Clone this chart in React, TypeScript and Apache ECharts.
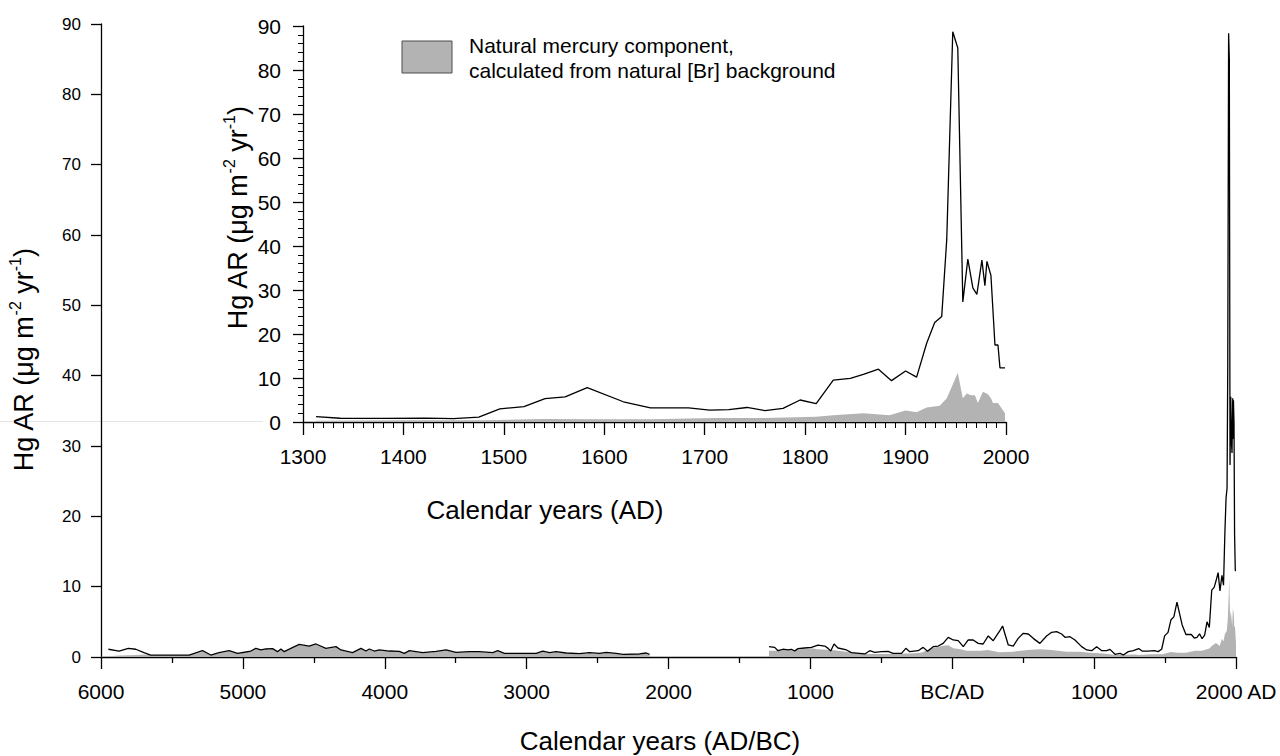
import React, { useEffect, useRef } from "react";
import * as echarts from "echarts";

const FONT = "'Liberation Sans', Arial, Helvetica, sans-serif";

// ---- Main chart, early segment (BC years negative) ----
const earlyYears = [-5948, -5873, -5807, -5755, -5697, -5650, -5473, -5379, -5285, -5226, -5168, -5097, -5038, -4979, -4944, -4909, -4873, -4838, -4791, -4756, -4732, -4709, -4662, -4603, -4533, -4485, -4415, -4344, -4309, -4227, -4168, -4133, -4109, -4074, -4039, -3968, -3898, -3862, -3827, -3733, -3639, -3568, -3498, -3404, -3333, -3239, -3204, -3157, -3122, -2933, -2887, -2839, -2792, -2722, -2628, -2557, -2487, -2439, -2369, -2322, -2205, -2157, -2134];
const earlyHg = [1.1, 0.85, 1.23, 1.1, 0.62, 0.28, 0.28, 0.28, 0.9, 0.28, 0.62, 0.9, 0.52, 0.71, 0.85, 1.23, 1.0, 1.14, 1.19, 0.76, 1.14, 0.76, 1.23, 1.8, 1.56, 1.85, 1.23, 1.47, 1.0, 0.62, 1.23, 0.85, 1.14, 0.85, 1.0, 0.85, 0.81, 0.52, 0.9, 0.62, 0.81, 1.0, 0.66, 0.76, 0.76, 0.62, 0.9, 0.52, 0.52, 0.52, 0.85, 0.62, 0.76, 0.57, 0.47, 0.62, 0.52, 0.66, 0.52, 0.38, 0.43, 0.57, 0.38];
const earlyNatYears = [-6000, -5873, -5755, -5697, -5650, -5473, -5379, -5285, -5226, -5168, -5097, -5038, -4979, -4944, -4909, -4873, -4838, -4791, -4756, -4732, -4709, -4662, -4603, -4533, -4485, -4415, -4344, -4309, -4227, -4168, -4133, -4109, -4074, -4039, -3968, -3898, -3862, -3827, -3733, -3639, -3568, -3498, -3404, -3333, -3239, -3204, -3157, -3122, -2933, -2887, -2839, -2792, -2722, -2628, -2557, -2487, -2439, -2369, -2322, -2205, -2157, -2134];
const earlyNat = [0.05, 0.2, 0.3, 0.35, 0.25, 0.25, 0.25, 0.75, 0.25, 0.55, 0.8, 0.45, 0.65, 0.8, 1.15, 0.95, 1.05, 1.1, 0.7, 1.05, 0.7, 1.15, 1.7, 1.5, 1.75, 1.15, 1.4, 0.95, 0.55, 1.15, 0.8, 1.05, 0.8, 0.95, 0.8, 0.75, 0.45, 0.85, 0.55, 0.75, 0.95, 0.6, 0.7, 0.7, 0.55, 0.8, 0.45, 0.45, 0.45, 0.75, 0.55, 0.7, 0.5, 0.4, 0.55, 0.45, 0.6, 0.45, 0.3, 0.35, 0.5, 0.3];

// ---- Main chart, middle segment (-1300 .. 1300) ----
const midYears = [-1292, -1252, -1229, -1194, -1158, -1135, -1111, -1088, -1041, -993, -947, -899, -876, -857, -834, -806, -746, -711, -617, -582, -547, -499, -453, -418, -358, -328, -300, -241, -206, -175, -135, -100, -65, -29, 6, 41, 77, 112, 147, 182, 217, 253, 288, 335, 354, 394, 429, 464, 500, 535, 570, 617, 664, 700, 735, 770, 794, 829, 864, 911, 947, 982, 1017, 1053, 1088, 1111, 1146, 1182, 1205, 1240, 1276];
const midHg = [1.47, 1.37, 0.9, 1.1, 1.0, 1.1, 0.85, 1.19, 1.28, 1.37, 1.7, 1.56, 1.23, 0.85, 1.85, 1.28, 1.0, 0.62, 0.43, 0.9, 0.66, 0.76, 0.81, 0.52, 0.52, 1.23, 0.76, 0.9, 1.37, 0.81, 1.47, 1.56, 1.94, 2.8, 2.42, 2.32, 1.47, 2.42, 2.42, 1.94, 1.85, 2.99, 2.32, 3.74, 4.41, 1.71, 1.56, 2.65, 3.37, 3.27, 2.65, 1.94, 2.99, 3.51, 3.6, 3.27, 2.8, 2.89, 2.42, 1.47, 1.0, 0.9, 1.47, 0.9, 0.9, 1.09, 0.38, 0.52, 0.28, 0.76, 0.9];
const midNatYears = [-1292, -1194, -993, -947, -850, -746, -617, -450, -300, -220, -135, -65, -29, 6, 60, 100, 200, 250, 330, 429, 530, 617, 700, 805, 900, 970, 1060, 1158, 1290];
const midNat = [0.9, 0.9, 1.23, 1.1, 1.0, 0.76, 0.43, 0.43, 0.5, 0.62, 1.3, 1.6, 1.66, 1.23, 1.1, 0.9, 0.9, 1.0, 0.66, 0.76, 1.0, 1.1, 1.0, 0.76, 0.75, 0.62, 0.5, 0.28, 0.35];

// ---- Recent record (1300 .. 2000 AD), shared by main chart and inset ----
const recentYears = [1313, 1337, 1380, 1423, 1450, 1475, 1496, 1520, 1541, 1561, 1583, 1619, 1646, 1684, 1705, 1724, 1742, 1760, 1778, 1795, 1811, 1828, 1845, 1858, 1873, 1886, 1900, 1911, 1921, 1929, 1936, 1941, 1947, 1952, 1957, 1962, 1967, 1971, 1976, 1979, 1981, 1985, 1989, 1992, 1994, 1999];
const recentHg = [1.2, 0.85, 0.83, 0.9, 0.76, 1.1, 3.0, 3.5, 5.3, 5.7, 7.8, 4.6, 3.2, 3.2, 2.7, 2.8, 3.3, 2.6, 3.1, 5.0, 4.2, 9.5, 9.9, 10.8, 12.0, 9.4, 11.6, 10.2, 17.9, 22.6, 24.0, 41.5, 88.7, 85.0, 27.3, 37.0, 30.5, 29.0, 36.8, 31.0, 36.5, 33.3, 17.5, 17.5, 12.3, 12.3];
const recentNatYears = [1313, 1400, 1480, 1540, 1590, 1646, 1711, 1760, 1811, 1828, 1858, 1884, 1900, 1911, 1921, 1934, 1941, 1947, 1952, 1957, 1961, 1965, 1969, 1972, 1977, 1982, 1985, 1987, 1992, 1999];
const recentNat = [0.3, 0.4, 0.4, 0.7, 0.6, 0.6, 0.9, 0.9, 1.2, 1.55, 2.0, 1.55, 2.6, 2.2, 3.3, 3.7, 5.4, 8.5, 11.2, 5.4, 6.5, 6.1, 6.1, 4.3, 6.9, 6.3, 5.4, 4.3, 4.3, 2.0];

// ---- Tick labels ----
const mainXTickValues = [-6000, -5000, -4000, -3000, -2000, -1000, 0, 1000, 2000];
const mainXTickLabels = ["6000", "5000", "4000", "3000", "2000", "1000", "BC/AD", "1000", "2000 AD"];

const mainXTitle = "Calendar years (AD/BC)";
const insetXTitle = "Calendar years (AD)";
const legendLines = ["Natural mercury component,", "calculated from natural [Br] background"];
const yTitleRich = "{a|Hg AR (μg m}{s|-2}{a| yr}{s|-1}{a|)}";

const GREY = "#b3b3b3";

function pairs(xs: number[], ys: number[]) {
  return xs.map((x, i) => [x, ys[i]]);
}

function axisCommon(fontSize: number, margin: number, tickLen: number) {
  return {
    type: "value",
    splitLine: { show: false },
    axisLine: { show: true, onZero: false, lineStyle: { color: "#000", width: 1.3 } },
    axisTick: { show: true, length: tickLen, lineStyle: { color: "#000", width: 1.3 } },
    axisLabel: { color: "#000", fontSize, margin, fontFamily: FONT, formatter: (v: number) => String(v) },
  };
}

const richTitle = {
  a: { fontSize: 27, fontFamily: FONT, fill: "#000", color: "#000", lineHeight: 33 },
  s: { fontSize: 16, fontFamily: FONT, fill: "#000", color: "#000", verticalAlign: "top", lineHeight: 19 },
};

export default function App() {
  const ref = useRef<HTMLDivElement>(null);

  useEffect(() => {
    if (!ref.current) return;
    const chart = echarts.init(ref.current, undefined, { renderer: "svg" });

    const areaSeries = (name: string, data: number[][], xi: number, yi: number) => ({
      name,
      type: "line",
      xAxisIndex: xi,
      yAxisIndex: yi,
      data,
      symbol: "none",
      silent: true,
      itemStyle: { color: GREY },
      lineStyle: { width: 0, color: GREY },
      areaStyle: { color: GREY, opacity: 1 },
      z: 2,
    });
    const lineSeries = (name: string, data: number[][], xi: number, yi: number) => ({
      name,
      type: "line",
      xAxisIndex: xi,
      yAxisIndex: yi,
      data,
      symbol: "none",
      silent: true,
      itemStyle: { color: "#000" },
      lineStyle: { width: 1.3, color: "#000" },
      z: 3,
    });

    const yTitle = (x: number, y: number) => ({
      type: "text",
      x,
      y,
      rotation: Math.PI / 2,
      silent: true,
      style: {
        text: yTitleRich,
        rich: richTitle,
        fill: "#000",
        font: `27px ${FONT}`,
        textAlign: "center",
        textVerticalAlign: "middle",
      },
    });

    const option: any = {
      animation: false,
      backgroundColor: "#ffffff",
      textStyle: { fontFamily: FONT },
      grid: [
        { left: 101, right: 43, top: 24, bottom: 99 },
        { left: 303, right: 274, top: 26, bottom: 334 },
      ],
      xAxis: [
        {
          ...axisCommon(21, 24, 12),
          gridIndex: 0,
          min: -6000,
          max: 2000,
          interval: 1000,
          minorTick: { show: true, splitNumber: 2, length: 6, lineStyle: { color: "#000", width: 1.3 } },
          minorSplitLine: { show: false },
          axisLabel: {
            color: "#000",
            fontSize: 21,
            margin: 24,
            fontFamily: FONT,
            formatter: (v: number) => {
              const i = mainXTickValues.indexOf(v);
              return i >= 0 ? mainXTickLabels[i] : "";
            },
          },
        },
        {
          ...axisCommon(21, 24, 13),
          gridIndex: 1,
          min: 1300,
          max: 2000,
          interval: 100,
          minorTick: { show: true, splitNumber: 10, length: 6, lineStyle: { color: "#000", width: 1 } },
          minorSplitLine: { show: false },
        },
      ],
      yAxis: [
        {
          ...axisCommon(17, 20, 10),
          gridIndex: 0,
          min: 0,
          max: 90,
          interval: 10,
        },
        {
          ...axisCommon(21, 22, 10),
          gridIndex: 1,
          min: 0,
          max: 90,
          interval: 10,
          minorTick: { show: true, splitNumber: 5, length: 5, lineStyle: { color: "#000", width: 1 } },
          minorSplitLine: { show: false },
        },
      ],
      series: [
        areaSeries("natEarly", pairs(earlyNatYears, earlyNat), 0, 0),
        areaSeries("natLate", pairs(midNatYears, midNat).concat(pairs(recentNatYears, recentNat)), 0, 0),
        lineSeries("hgEarly", pairs(earlyYears, earlyHg), 0, 0),
        lineSeries("hgLate", pairs(midYears, midHg).concat(pairs(recentYears, recentHg)), 0, 0),
        areaSeries("natInset", pairs(recentNatYears, recentNat), 1, 1),
        lineSeries("hgInset", pairs(recentYears, recentHg), 1, 1),
      ],
      graphic: [
        {
          type: "line",
          shape: { x1: 0, y1: 421.5, x2: 263, y2: 421.5 },
          style: { stroke: "#e4e4e4", lineWidth: 1 },
          silent: true,
        },
        {
          type: "rect",
          shape: { x: 402, y: 41, width: 50, height: 32 },
          style: { fill: GREY, stroke: "#4d4d4d", lineWidth: 1 },
          silent: true,
        },
        {
          type: "text",
          x: 469,
          y: 33,
          style: {
            text: legendLines.join("\n"),
            font: `21px ${FONT}`,
            fill: "#000",
            lineHeight: 25,
            textAlign: "left",
            textVerticalAlign: "top",
          },
          silent: true,
        },
        {
          type: "text",
          x: 660,
          y: 741,
          style: {
            text: mainXTitle,
            font: `26px ${FONT}`,
            fill: "#000",
            textAlign: "center",
            textVerticalAlign: "middle",
          },
          silent: true,
        },
        {
          type: "text",
          x: 545,
          y: 510,
          style: {
            text: insetXTitle,
            font: `26px ${FONT}`,
            fill: "#000",
            textAlign: "center",
            textVerticalAlign: "middle",
          },
          silent: true,
        },
        yTitle(24, 360),
        yTitle(238, 218),
      ],
    };

    chart.setOption(option);
    return () => chart.dispose();
  }, []);

  return (
    <div
      ref={ref}
      style={{ position: "absolute", left: 0, top: 0, width: 1280, height: 756, background: "#fff" }}
    />
  );
}
